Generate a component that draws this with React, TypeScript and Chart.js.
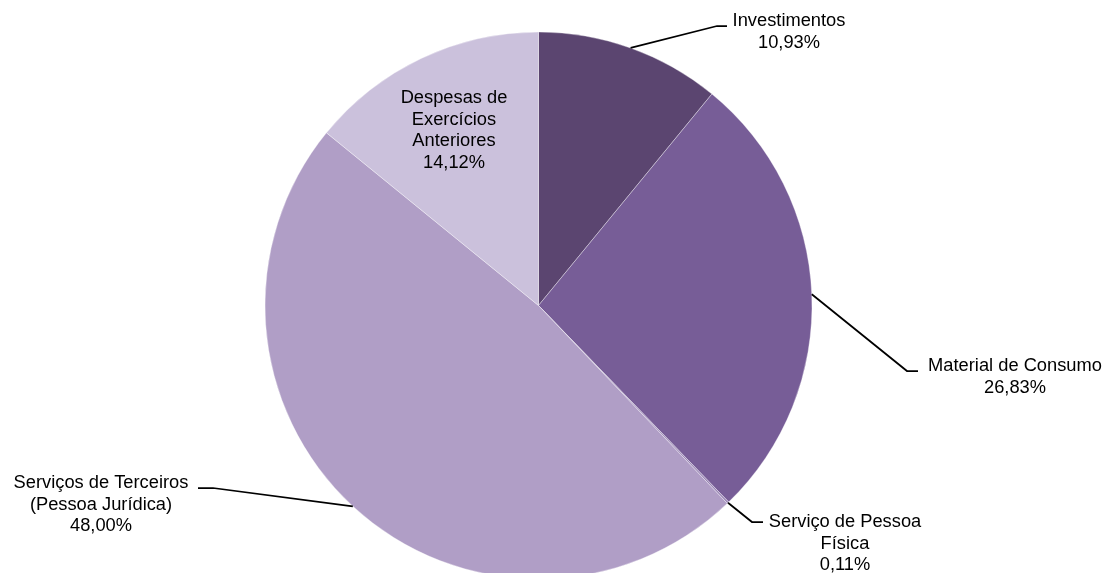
import React, { useEffect, useRef } from "react";
import { Chart, registerables } from "chart.js";

Chart.register(...registerables);

const categories = [
  "Investimentos",
  "Material de Consumo",
  "Serviço de Pessoa Física",
  "Serviços de Terceiros (Pessoa Jurídica)",
  "Despesas de Exercícios Anteriores",
];
const values = [10.93, 26.83, 0.11, 48.0, 14.12];
const labelLines = [
  ["Investimentos"],
  ["Material de Consumo"],
  ["Serviço de Pessoa", "Física"],
  ["Serviços de Terceiros", "(Pessoa Jurídica)"],
  ["Despesas de", "Exercícios", "Anteriores"],
];
const colors = ["#5B4570", "#775D97", "#9A86B6", "#B09EC6", "#CBC1DC"];

// label placement (layout only)
const labelLayout = [
  { elbow: [717, 26], end: [727, 26], tx: 789, ty: 21 },
  { elbow: [907, 371], end: [918, 371], tx: 1015, ty: 366 },
  { elbow: [752, 522], end: [763, 522], tx: 845, ty: 522 },
  { elbow: [213, 488], end: [198, 488], tx: 101, ty: 483 },
  { elbow: null, end: null, tx: 454, ty: 98 },
];

const fmt = (v: number) => v.toFixed(2).replace(".", ",") + "%";

const labelPlugin = {
  id: "pieLabels",
  afterDatasetsDraw(chart: any) {
    const ctx = chart.ctx;
    const meta = chart.getDatasetMeta(0);
    ctx.save();
    meta.data.forEach((arc: any, i: number) => {
      const L = labelLayout[i];
      if (L.elbow) {
        const mid = (arc.startAngle + arc.endAngle) / 2;
        const sx = arc.x + Math.cos(mid) * arc.outerRadius;
        const sy = arc.y + Math.sin(mid) * arc.outerRadius;
        ctx.beginPath();
        ctx.strokeStyle = "#000";
        ctx.lineWidth = 1.75;
        ctx.moveTo(sx, sy);
        ctx.lineTo(L.elbow[0], L.elbow[1]);
        ctx.lineTo(L.end![0], L.end![1]);
        ctx.stroke();
      }
      const lines = [...labelLines[i], fmt(values[i])];
      ctx.fillStyle = "#000";
      ctx.font = "18.3px 'Liberation Sans', Arial, sans-serif";
      ctx.textAlign = "center";
      ctx.textBaseline = "middle";
      lines.forEach((t, k) => {
        ctx.fillText(t, L.tx, L.ty + k * 21.5);
      });
    });
    ctx.restore();
  },
};

export default function App() {
  const ref = useRef<HTMLCanvasElement>(null);
  useEffect(() => {
    if (!ref.current) return;
    const chart = new Chart(ref.current, {
      type: "pie",
      data: {
        labels: categories,
        datasets: [
          {
            data: values,
            backgroundColor: colors,
            borderColor: "rgba(255,255,255,0.35)",
            borderWidth: 1,
          },
        ],
      },
      options: {
        responsive: false,
        maintainAspectRatio: false,
        animation: false,
        devicePixelRatio: 1,
        layout: { padding: { top: 31.5, bottom: 60.5, left: 264.5, right: 293.5 } },
        plugins: {
          legend: { display: false },
          tooltip: { enabled: false },
        },
      },
      plugins: [labelPlugin],
    });
    return () => chart.destroy();
  }, []);
  return (
    <div
      style={{
        position: "fixed",
        left: 0,
        top: 0,
        width: 1106,
        height: 573,
        overflow: "hidden",
        background: "#fff",
      }}
    >
      <canvas ref={ref} width={1106} height={640} style={{ display: "block" }} />
    </div>
  );
}
